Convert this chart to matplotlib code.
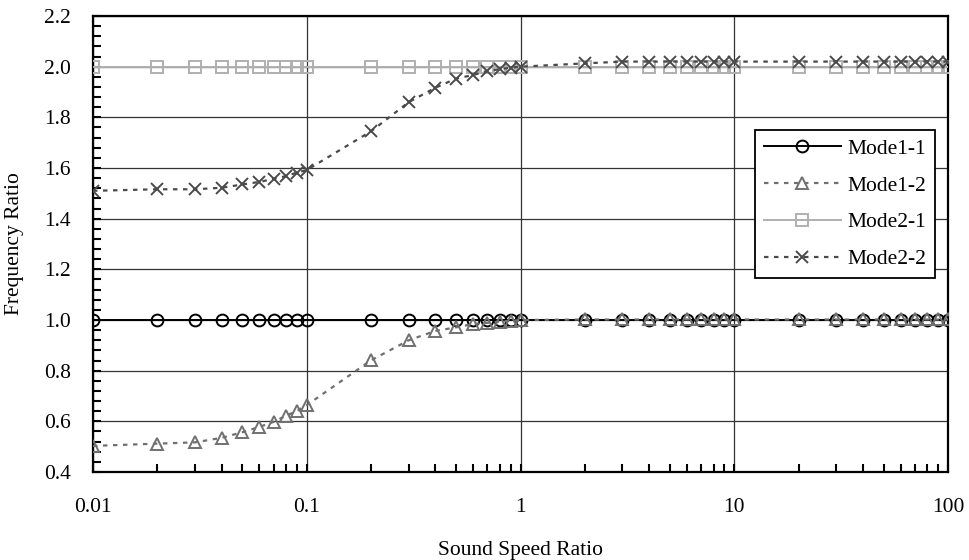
import matplotlib.pyplot as plt
from matplotlib.ticker import FixedLocator, MultipleLocator, LogLocator, NullFormatter

plt.rcParams["font.family"] = ["Liberation Serif", "DejaVu Serif"]

# Sound speed ratio sample points
speed_ratio = [0.01, 0.02, 0.03, 0.04, 0.05, 0.06, 0.07, 0.08, 0.09,
               0.1, 0.2, 0.3, 0.4, 0.5, 0.6, 0.7, 0.8, 0.9,
               1, 2, 3, 4, 5, 6, 7, 8, 9,
               10, 20, 30, 40, 50, 60, 70, 80, 90, 100]

mode1_1 = [1.0] * 37
mode1_2 = [0.503, 0.512, 0.517, 0.535, 0.557, 0.578, 0.598, 0.622, 0.641,
           0.664, 0.841, 0.920, 0.957, 0.971, 0.984, 0.989, 0.994, 0.997,
           1.0, 1.002, 1.002, 1.002, 1.002, 1.002, 1.002, 1.002, 1.002,
           1.002, 1.002, 1.002, 1.002, 1.002, 1.002, 1.002, 1.002, 1.002, 1.002]
mode2_1 = [2.0] * 37
mode2_2 = [1.510, 1.516, 1.516, 1.522, 1.535, 1.545, 1.557, 1.568, 1.582,
           1.592, 1.745, 1.860, 1.917, 1.953, 1.967, 1.983, 1.990, 1.996,
           2.0, 2.013, 2.02, 2.02, 2.02, 2.02, 2.02, 2.02, 2.02,
           2.02, 2.02, 2.02, 2.02, 2.02, 2.02, 2.02, 2.02, 2.02, 2.02]

x_ticks = [0.01, 0.1, 1, 10, 100]
x_tick_labels = ["0.01", "0.1", "1", "10", "100"]

fig = plt.figure(figsize=(9.69, 5.6), dpi=100)
ax = fig.add_axes([93 / 969, 1 - 472 / 560, 855 / 969, 456 / 560])

dash = (0, (2.0, 2.5))
ax.plot(speed_ratio, mode1_1, color="black", lw=1.4, marker="o", ms=8.5,
        mfc="none", mec="black", mew=1.4, label="Mode1-1", zorder=4)
ax.plot(speed_ratio, mode1_2, color="#707070", lw=1.6, ls=dash, marker="^", ms=8,
        mfc="none", mec="#707070", mew=1.4, label="Mode1-2", zorder=5)
ax.plot(speed_ratio, mode2_1, color="#b0b0b0", lw=1.4, marker="s", ms=8,
        mfc="none", mec="#b0b0b0", mew=1.4, label="Mode2-1", zorder=4)
ax.plot(speed_ratio, mode2_2, color="#4a4a4a", lw=1.6, ls=dash, marker="x", ms=9,
        mec="#4a4a4a", mew=1.4, label="Mode2-2", zorder=5)

ax.set_xscale("log")
ax.set_xlim(0.01, 100)
ax.set_ylim(0.4, 2.2)
ax.xaxis.set_major_locator(FixedLocator(x_ticks))
ax.set_xticklabels(x_tick_labels)
ax.xaxis.set_minor_locator(LogLocator(base=10, subs=range(2, 10)))
ax.xaxis.set_minor_formatter(NullFormatter())
ax.yaxis.set_major_locator(MultipleLocator(0.2))
ax.yaxis.set_minor_locator(MultipleLocator(0.04))
ax.yaxis.set_major_formatter(plt.FuncFormatter(lambda v, p: f"{v:.1f}"))

ax.grid(True, which="major", color="#333333", lw=0.9)
ax.set_axisbelow(True)
ax.tick_params(which="both", direction="in", top=False, right=False,
               labelsize=15.5, width=1.5, length=6)
ax.tick_params(axis="y", pad=16)
ax.tick_params(axis="x", pad=19)
for s in ax.spines.values():
    s.set_linewidth(1.6)

ax.set_xlabel("Sound Speed Ratio", fontsize=15.5, labelpad=17)
ax.set_ylabel("Frequency Ratio", fontsize=15.5, labelpad=14)

leg = ax.legend(loc="upper right", bbox_to_anchor=(0.985, 0.75), fontsize=15.5,
                frameon=True, fancybox=False, framealpha=1, edgecolor="black",
                handlelength=3.6, handletextpad=0.3, borderpad=0.4,
                labelspacing=0.78, borderaxespad=0)
leg.get_frame().set_linewidth(1.3)

fig.savefig("out.png", dpi=100)
